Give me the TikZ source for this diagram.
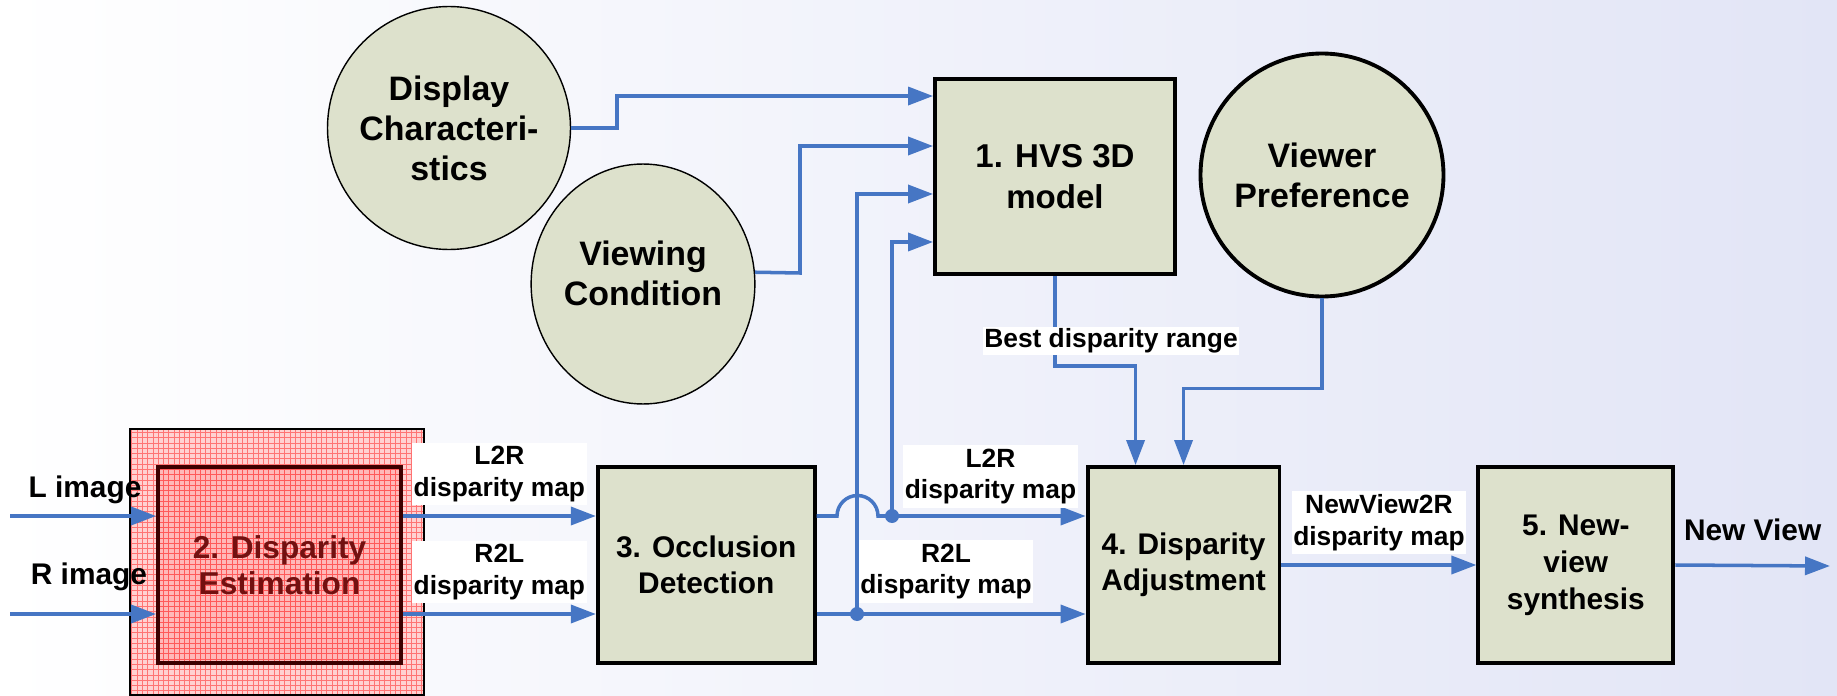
\documentclass[tikz,border=0pt]{standalone}
\usepackage{fontspec}
\setmainfont{Liberation Sans}
\usetikzlibrary{positioning, arrows.meta, shapes.geometric, patterns}
\definecolor{flowblue}{RGB}{70,118,196}
\definecolor{boxfill}{RGB}{221,225,204}
\definecolor{bgright}{RGB}{226,229,246}
\definecolor{estred}{RGB}{115,16,16}
\definecolor{estline}{RGB}{60,0,0}
\tikzset{
block/.style={
  rectangle,
  draw=black,
  line width=2.2pt,
  fill=boxfill,
  align=center,
  inner sep=0pt,
  font=\bfseries\fontsize{17}{20.5}\selectfont,
 },
item/.style={circle, draw=black, line width=0.8pt, fill=boxfill, align=center,
  inner sep=0pt, font=\bfseries\fontsize{19.3}{22.7}\selectfont},
line/.style={draw=flowblue, line width=2pt, -{Triangle[length=0.5cm,width=0.36cm]}},
maptag/.style={fill=white, align=center, inner xsep=1pt, inner ysep=2pt,
  font=\bfseries\fontsize{15}{18.1}\selectfont}
}

\begin{document}
\begin{tikzpicture}[x=0.02cm, y=-0.02cm,
imgtag/.style={inner sep=0pt, font=\bfseries\fontsize{17}{20}\selectfont}]

 \useasboundingbox (0,0) rectangle (1837,696);
 \shade[left color=white, right color=bgright] (0,0) rectangle (1837,696);

 % estimation block with its hatched frame
 \fill[red!18] (130,429) rectangle (424,695);
 \fill[pattern=grid, pattern color=red!55] (130,429) rectangle (424,695);
 \draw[line width=0.7pt] (130,429) rectangle (424,695);

 \node[block, minimum width=4.86cm, minimum height=3.92cm, draw=estline,
   preaction={fill=red!28}, pattern=grid, pattern color=red!65,
   text=estred, font=\bfseries\fontsize{18}{20.5}\selectfont]
   (est) at (279.5,565) {2. Disparity\\Estimation};
 \node[block, minimum width=4.34cm, minimum height=3.92cm, right=3.86cm of est] (occ) {3. Occlusion\\Detection};
 \node[block, minimum width=3.84cm, minimum height=3.92cm, right=5.38cm of occ] (adj) {4. Disparity\\Adjustment};
 \node[block, minimum width=3.9cm, minimum height=3.92cm, right=3.9cm of adj,
   font=\bfseries\fontsize{17}{21}\selectfont] (nv) {5. New-\\view\\synthesis};
 \node[block, minimum width=4.8cm, minimum height=3.9cm,
   font=\bfseries\fontsize{18.8}{23}\selectfont] (hvs) at (1055,176.5) {1. HVS 3D\\model};

 \node[item, minimum size=4.86cm] (disp) at (449,128) {Display\\Characteri-\\stics};
 \node[item, ellipse, minimum width=4.34cm, minimum height=4.8cm, text depth=0.44cm] (view) at (643,284) {Viewing\\Condition};
 \node[item, minimum size=4.86cm, line width=2.2pt] (pref) at (1322,175) {Viewer\\Preference};

 \coordinate (limg) at (10,516);
 \coordinate (rimg) at (10,614);
 \coordinate (j1) at (857,614);
 \coordinate (j2) at (892,516);
 \coordinate (out) at (1830,566);

 % inputs
 \draw[line] (limg) -- (limg -| est.west);
 \draw[line] (rimg) -- (rimg -| est.west);
 \node[imgtag] (ltxt) at (85,490) {L image};
 \node[imgtag] (rtxt) at (89,577) {R image};

 \draw[line] (est.east |- limg) -- (occ.west |- limg)
   node[maptag, midway, above=0.18cm] (l2ra) {L2R\\disparity map};
 \draw[line] (est.east |- rimg) -- (occ.west |- rimg)
   node[maptag, midway, above=0.18cm] (r2la) {R2L\\disparity map};

 % occlusion outputs, with the hop over the feedback line
 \draw[line] (occ.east |- limg) -- (837,516) arc[start angle=180, end angle=0, radius=0.41cm] -- (adj.west |- limg);
 \draw[line] (occ.east |- rimg) -- (adj.west |- rimg);
 \fill[flowblue] (j1) circle[radius=0.14cm];
 \fill[flowblue] (j2) circle[radius=0.14cm];
 \draw[line] (j1) |- ([yshift=-0.35cm]hvs.west);
 \draw[line] (j2) |- ([yshift=-1.31cm]hvs.west);
 \node[maptag] (l2rb) at (990.5,476.5) {L2R\\disparity map};
 \node[maptag] (r2lb) at (946,571.5) {R2L\\disparity map};

 % into the HVS model
 \draw[line] (disp.east) -- ++(0.92cm,0) |- ([yshift=1.61cm]hvs.west);
 \draw[line] (view.6) -- (800,273) |- ([yshift=0.61cm]hvs.west);

 % into the adjustment
 \draw[line] (hvs.south) -- ++(0,-1.8cm) -| ([xshift=-0.96cm]adj.north);
 \node[maptag, inner ysep=1pt] (best) at (1111,341) {Best disparity range};
 \draw[line] (pref.south) -- ++(0,-1.8cm) -| (adj.north);

 \draw[line] (adj.east) -- (nv.west)
   node[maptag, midway, above=0.18cm] (nvmap) {NewView2R\\disparity map};
 \draw[line] (nv.east) -- (out)
   node[imgtag, midway, above=0.45cm] (nvtxt) {New View};
\end{tikzpicture}
\end{document}
